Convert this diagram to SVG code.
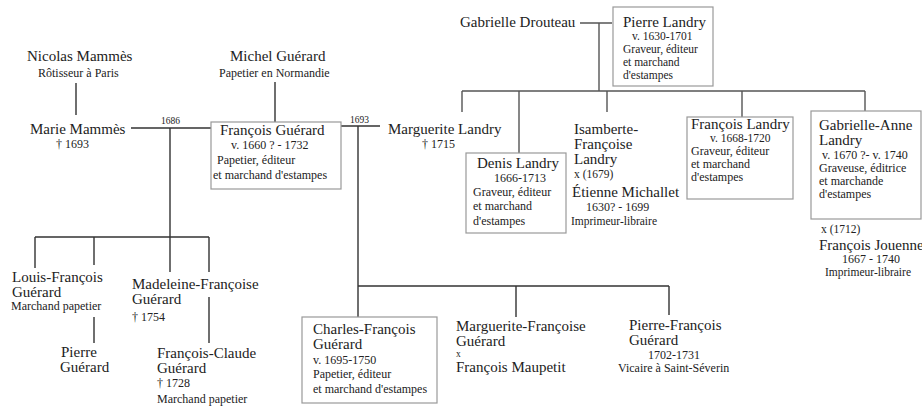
<svg xmlns="http://www.w3.org/2000/svg" width="922" height="407" viewBox="0 0 922 407">
<style>
text { font-family: "Liberation Serif", "DejaVu Serif", serif; fill: #222; }
.n { font-size: 15px; }
.s { font-size: 12px; }
.p { font-size: 11.5px; }
.m { font-size: 11.5px; }
.t { font-size: 9.5px; }
.box { fill: #fff; stroke: #999; stroke-width: 1.2; }
.ln { stroke: #333; stroke-width: 1.4; fill: none; }
.lg { stroke: #555; stroke-width: 1.4; fill: none; }
</style>
<rect width="922" height="407" fill="#fff"/>
<g id="connectors">
  <path class="ln" d="M76 83V115M275 82V122M131 128H211M170 128V272M35 237H209M35 237V268M94 237V265M209 237V272M94 317V343M209 297V343"/>
  <path class="ln" d="M341 126H380M358 126V317M358 286H669M516 286V317M669 286V315"/>
  <path class="lg" d="M580 23H612M599 23V91M462 91H865M462 91V112M519 91V153M607 91V112M742 91V117M865 91V111"/>
  <text class="t" x="161" y="124">1686</text>
  <text class="t" x="350" y="123">1693</text>
</g>
<g id="nicolas-mammes">
  <text class="n" x="27" y="61">Nicolas Mammès</text>
  <text class="s" x="38" y="77">Rôtisseur à Paris</text>
</g>
<g id="michel-guerard">
  <text class="n" x="230" y="61">Michel Guérard</text>
  <text class="s" x="219" y="77">Papetier en Normandie</text>
</g>
<g id="marie-mammes">
  <text class="n" x="30" y="134">Marie Mammès</text>
  <text class="s" x="56" y="148">† 1693</text>
</g>
<g id="francois-guerard">
  <rect class="box" x="211" y="122" width="130" height="67"/>
  <text class="n" x="220" y="135">François Guérard</text>
  <text class="s" x="231" y="149">v. 1660 ? - 1732</text>
  <text class="s" x="217" y="164">Papetier, éditeur</text>
  <text class="s" x="213" y="179">et marchand d'estampes</text>
</g>
<g id="marguerite-landry">
  <text class="n" x="388" y="134">Marguerite Landry</text>
  <text class="s" x="422" y="148">† 1715</text>
</g>
<g id="gabrielle-drouteau">
  <text class="n" x="460" y="27">Gabrielle Drouteau</text>
</g>
<g id="pierre-landry">
  <rect class="box" x="613" y="7" width="100" height="79"/>
  <text class="n" x="623" y="27">Pierre Landry</text>
  <text class="p" x="632" y="40">v. 1630-1701</text>
  <text class="p" x="623" y="53">Graveur, éditeur</text>
  <text class="p" x="623" y="66">et marchand</text>
  <text class="p" x="623" y="79">d'estampes</text>
</g>
<g id="denis-landry">
  <rect class="box" x="466" y="153" width="100" height="80"/>
  <text class="n" x="477" y="168">Denis Landry</text>
  <text class="s" x="494" y="182">1666-1713</text>
  <text class="s" x="473" y="196">Graveur, éditeur</text>
  <text class="s" x="473" y="210">et marchand</text>
  <text class="s" x="473" y="225">d'estampes</text>
</g>
<g id="isamberte-francoise-landry">
  <text class="n" x="574" y="134">Isamberte-</text>
  <text class="n" x="574" y="149">Françoise</text>
  <text class="n" x="574" y="164">Landry</text>
  <text class="m" x="574" y="178">x (1679)</text>
  <text class="n" x="572" y="197">Étienne Michallet</text>
  <text class="s" x="586" y="211">1630? - 1699</text>
  <text class="m" x="571" y="225">Imprimeur-libraire</text>
</g>
<g id="francois-landry">
  <rect class="box" x="687" y="117" width="106" height="82"/>
  <text class="n" x="691" y="129">François Landry</text>
  <text class="p" x="710" y="142">v. 1668-1720</text>
  <text class="s" x="691" y="155">Graveur, éditeur</text>
  <text class="s" x="691" y="168">et marchand</text>
  <text class="s" x="691" y="181">d'estampes</text>
</g>
<g id="gabrielle-anne-landry">
  <rect class="box" x="811" y="111" width="110" height="108"/>
  <text class="n" x="819" y="130">Gabrielle-Anne</text>
  <text class="n" x="819" y="145">Landry</text>
  <text class="s" x="822" y="159">v. 1670 ?- v. 1740</text>
  <text class="s" x="819" y="172">Graveuse, éditrice</text>
  <text class="s" x="819" y="185">et marchande</text>
  <text class="s" x="819" y="198">d'estampes</text>
  <text class="m" x="821" y="233">x (1712)</text>
  <text class="n" x="819" y="250">François Jouenne</text>
  <text class="s" x="842" y="263">1667 - 1740</text>
  <text class="m" x="825" y="276">Imprimeur-libraire</text>
</g>
<g id="louis-francois-guerard">
  <text class="n" x="12" y="282">Louis-François</text>
  <text class="n" x="12" y="297">Guérard</text>
  <text class="s" x="11" y="310">Marchand papetier</text>
</g>
<g id="pierre-guerard">
  <text class="n" x="61" y="357">Pierre</text>
  <text class="n" x="60" y="372">Guérard</text>
</g>
<g id="madeleine-francoise-guerard">
  <text class="n" x="132" y="289">Madeleine-Françoise</text>
  <text class="n" x="132" y="304">Guérard</text>
  <text class="s" x="132" y="321">† 1754</text>
</g>
<g id="francois-claude-guerard">
  <text class="n" x="157" y="358">François-Claude</text>
  <text class="n" x="157" y="373">Guérard</text>
  <text class="s" x="157" y="387">† 1728</text>
  <text class="s" x="157" y="403">Marchand papetier</text>
</g>
<g id="charles-francois-guerard">
  <rect class="box" x="302" y="317" width="135" height="86"/>
  <text class="n" x="313" y="334">Charles-François</text>
  <text class="n" x="313" y="349">Guérard</text>
  <text class="s" x="313" y="364">v. 1695-1750</text>
  <text class="s" x="313" y="378">Papetier, éditeur</text>
  <text class="s" x="313" y="393">et marchand d'estampes</text>
</g>
<g id="marguerite-francoise-guerard">
  <text class="n" x="456" y="331">Marguerite-Françoise</text>
  <text class="n" x="456" y="346">Guérard</text>
  <text class="t" x="456" y="357">x</text>
  <text class="n" x="456" y="372">François Maupetit</text>
</g>
<g id="pierre-francois-guerard">
  <text class="n" x="629" y="330">Pierre-François</text>
  <text class="n" x="629" y="345">Guérard</text>
  <text class="s" x="648" y="359">1702-1731</text>
  <text class="s" x="618" y="372">Vicaire à Saint-Séverin</text>
</g>
</svg>
